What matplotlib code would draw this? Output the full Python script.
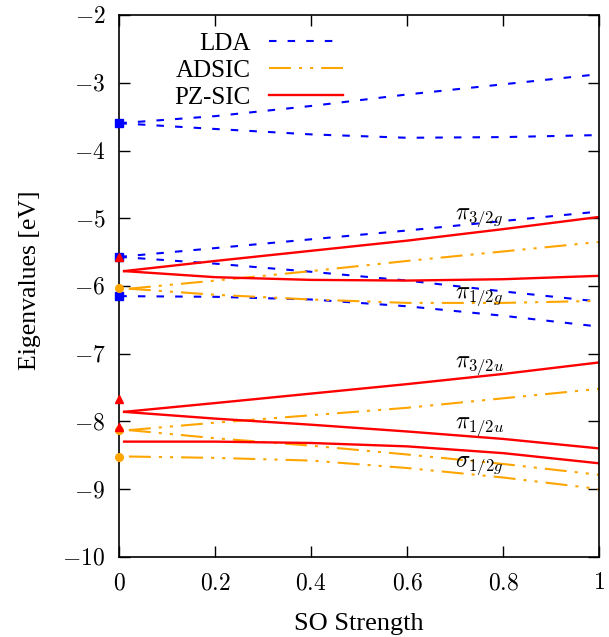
import matplotlib
matplotlib.use("Agg")
import matplotlib.pyplot as plt

plt.rcParams['mathtext.fontset'] = 'cm'
plt.rcParams['font.family'] = ['Liberation Serif', 'DejaVu Serif']
plt.rcParams['lines.scale_dashes'] = False

# SO strength sample points for each method
x_lda = [0.0, 0.2, 0.4, 0.6, 0.8, 1.0]
x_pz = [0.01, 0.2, 0.4, 0.6, 0.8, 1.0]
x_adsic = [0.02, 0.2, 0.4, 0.6, 0.8, 1.0]

# LDA eigenvalues [eV]
lda_levels = [
    [-3.595, -3.49, -3.34, -3.17, -3.02, -2.87],
    [-3.595, -3.68, -3.76, -3.81, -3.80, -3.77],
    [-5.57, -5.44, -5.31, -5.18, -5.04, -4.90],
    [-5.57, -5.67, -5.79, -5.92, -6.08, -6.23],
    [-6.15, -6.16, -6.20, -6.30, -6.44, -6.60],
]

# ADSIC eigenvalues [eV]
adsic_levels = [
    [-6.04, -5.92, -5.78, -5.63, -5.49, -5.35],
    [-6.04, -6.13, -6.20, -6.25, -6.25, -6.22],
    [-8.13, -8.02, -7.91, -7.80, -7.66, -7.52],
    [-8.13, -8.25, -8.36, -8.49, -8.63, -8.79],
    [-8.52, -8.54, -8.58, -8.69, -8.83, -9.00],
]

# PZ-SIC eigenvalues [eV]
pz_levels = [
    [-5.78, -5.63, -5.48, -5.33, -5.16, -4.98],
    [-5.78, -5.87, -5.91, -5.92, -5.90, -5.85],
    [-7.86, -7.73, -7.59, -7.45, -7.30, -7.13],
    [-7.86, -7.96, -8.05, -8.15, -8.26, -8.40],
    [-8.30, -8.30, -8.32, -8.37, -8.47, -8.62],
]

# Eigenvalues without spin-orbit coupling
lda_zero = [-3.595, -5.57, -6.15]
adsic_zero = [-6.03, -8.13, -8.52]
pz_zero = [-5.57, -7.67, -8.09]

# State labels
state_names = [r'$\pi_{3/2g}$', r'$\pi_{1/2g}$', r'$\pi_{3/2u}$', r'$\pi_{1/2u}$', r'$\sigma_{1/2g}$']
state_label_x = [0.70, 0.70, 0.70, 0.70, 0.70]
state_label_y = [-5.01, -6.18, -7.20, -8.10, -8.68]

xticks = [0, 0.2, 0.4, 0.6, 0.8, 1]
xtick_labels = ['0', '0.2', '0.4', '0.6', '0.8', '1']
yticks = [-10, -9, -8, -7, -6, -5, -4, -3, -2]
ytick_labels = ['-10', '-9', '-8', '-7', '-6', '-5', '-4', '-3', '-2']

fig = plt.figure(figsize=(6.09, 6.37), dpi=100)
ax = fig.add_axes([0.1959, 0.1261, 0.7877, 0.8499])

lda_style = dict(color='blue', lw=1.5, dashes=(5.4, 8.0))
adsic_style = dict(color='orange', lw=1.5, dashes=(15.8, 5.8, 2.2, 5.8, 2.2, 5.8))
pz_style = dict(color='red', lw=1.7, linestyle='-')

for i, lev in enumerate(lda_levels):
    ax.plot(x_lda, lev, label='LDA' if i == 0 else None, **lda_style)
for i, lev in enumerate(adsic_levels):
    ax.plot(x_adsic, lev, label='ADSIC' if i == 0 else None, **adsic_style)
for i, lev in enumerate(pz_levels):
    ax.plot(x_pz, lev, label='PZ-SIC' if i == 0 else None, **pz_style)

ax.plot([0] * len(lda_zero), lda_zero, 's', color='blue', ms=5.5, clip_on=False, zorder=5)
ax.plot([0] * len(adsic_zero), adsic_zero, 'o', color='orange', ms=5.5, clip_on=False, zorder=6)
ax.plot([0] * len(pz_zero), pz_zero, '^', color='red', ms=5.5, clip_on=False, zorder=7)

for name, tx, ty in zip(state_names, state_label_x, state_label_y):
    ax.text(tx, ty, name, fontsize=17, ha='left', va='baseline', zorder=8)

ax.set_xlim(0, 1)
ax.set_ylim(-10, -2)
ax.set_xticks(xticks)
ax.set_xticklabels(['$' + s + '$' for s in xtick_labels])
ax.set_yticks(yticks)
ax.set_yticklabels(['$' + s + '$' for s in ytick_labels])
ax.tick_params(direction='in', length=8, width=1, top=True, right=True,
               labelsize=17)
ax.tick_params(axis='x', pad=12)
ax.tick_params(axis='y', pad=10)
for sp in ax.spines.values():
    sp.set_linewidth(1.2)

ax.set_xlabel('SO Strength', fontsize=19, va='center')
ax.xaxis.set_label_coords(0.5, -0.1237)
ax.set_ylabel('Eigenvalues [eV]', fontsize=18.5, va='center')
ax.yaxis.set_label_coords(-0.1862, 0.51)

leg = ax.legend(loc='upper right', bbox_to_anchor=(343 / 609, 1 - 32 / 637),
                bbox_transform=fig.transFigure, frameon=False, markerfirst=False,
                fontsize=18, handlelength=2.96, handletextpad=0.73,
                labelspacing=0.19, borderpad=0, borderaxespad=0)

fig.savefig('out.png', dpi=100)
